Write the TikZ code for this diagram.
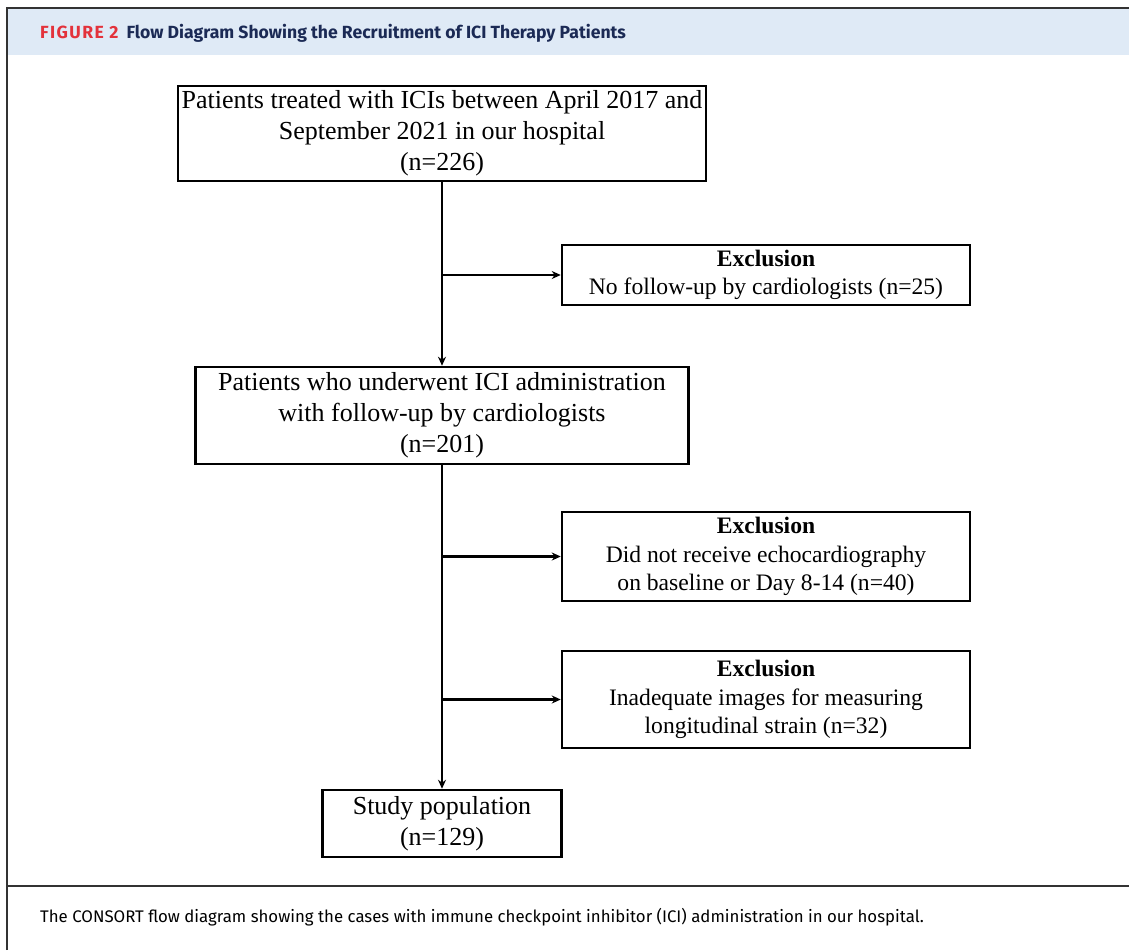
\documentclass[tikz,border=0pt]{standalone}
\usepackage{fontspec}
\setmainfont{Liberation Serif}
\newfontfamily\hdrfont{Fira Sans}
\usetikzlibrary{arrows.meta}
\definecolor{hdrblue}{HTML}{DFEAF6}
\definecolor{figred}{HTML}{E3323B}
\definecolor{navy}{HTML}{1B2A55}
\definecolor{framegray}{HTML}{333333}
\begin{document}
\begin{tikzpicture}[x=1pt,y=-1pt,
  box/.style={draw=black,line width=2.5pt,align=center,inner sep=0pt,
    font=\fontsize{26}{31}\selectfont},
  exbox/.style={box,font=\fontsize{23.6}{28.5}\selectfont},
  arr/.style={line width=2.5pt,-{Stealth[length=9pt,width=8pt]}},
  frame/.style={framegray,line width=2pt}]
\useasboundingbox (0,0) rectangle (1129,950);
% header
\fill[hdrblue] (7,9) rectangle (1129,55);
\draw[frame] (7,950) -- (7,8) -- (1129,8);
\draw[frame] (7,886) -- (1129,886);
\node[anchor=west,inner sep=0pt,font=\hdrfont\bfseries\fontsize{17.6}{20}\selectfont] (title) at (40,33)
  {\textcolor{figred}{\addfontfeature{LetterSpace=8}FIGURE 2}\hspace{8pt}\textcolor{navy}{Flow Diagram Showing the Recruitment of ICI Therapy Patients}};
\node[anchor=west,inner sep=0pt,font=\hdrfont\fontsize{16.8}{20}\selectfont] (caption) at (40,917)
  {The CONSORT flow diagram showing the cases with immune checkpoint inhibitor (ICI) administration in our hospital.};
% boxes
\node[box,minimum width=528pt,minimum height=95pt] (A) at (442,133.5)
  {Patients treated with ICIs between April 2017 and\\September 2021 in our hospital\\(n=226)};
\node[exbox,minimum width=408pt,minimum height=60pt] (E1) at (766,275)
  {\textbf{Exclusion}\\No follow-up by cardiologists (n=25)};
\node[box,minimum width=493pt,minimum height=97pt] (B) at (442,415.5)
  {Patients who underwent ICI administration\\with follow-up by cardiologists\\(n=201)};
\node[exbox,minimum width=408pt,minimum height=89pt] (E2) at (766,556.5)
  {\textbf{Exclusion}\\Did not receive echocardiography\\on baseline or Day 8-14 (n=40)};
\node[exbox,minimum width=408pt,minimum height=97pt] (E3) at (766,699.5)
  {\textbf{Exclusion}\\Inadequate images for measuring\\longitudinal strain (n=32)};
\node[box,minimum width=239pt,minimum height=67pt] (S) at (442,823.5)
  {Study population\\(n=129)};
% connectors
\coordinate (j1) at (442,275);
\coordinate (j2) at (442,556.5);
\coordinate (j3) at (442,699.5);
\draw[arr] (A) -- (B);
\draw[arr] (B) -- (S);
\draw[arr] (j1) -- (E1.west);
\draw[arr] (j2) -- (E2.west);
\draw[arr] (j3) -- (E3.west);
\end{tikzpicture}
\end{document}
